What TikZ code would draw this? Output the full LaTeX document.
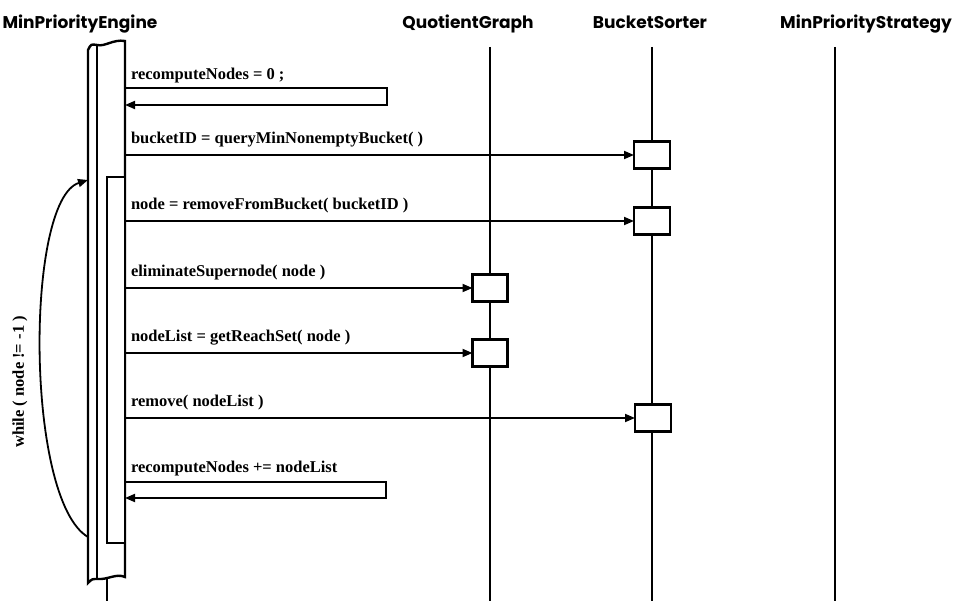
\documentclass[tikz,border=0pt]{standalone}
\usepackage{fontspec}
\setmainfont{Liberation Serif}
\newfontfamily\headfont{Poppins}
\usetikzlibrary{positioning,arrows.meta,calc}

\begin{document}
\begin{tikzpicture}[x=1pt, y=-1pt, line width=1.8pt,
  every node/.style={inner sep=0pt, outer sep=0pt},
  objname/.style={font=\headfont\bfseries\fontsize{17}{17}\selectfont, anchor=base},
  lbl/.style={font=\bfseries\fontsize{16.5}{17}\selectfont},
  life/.style={line width=1.8pt},
  actbox/.style={draw, fill=white, line width=2.4pt, minimum width=36pt, minimum height=27pt},
  msg/.style={-{Triangle[length=10pt,width=8pt]}, line width=1.8pt}]
  \useasboundingbox (0,0) rectangle (975,601);

  % object names
  \node[objname] (eng) at (80,29) {MinPriorityEngine};
  \node[objname] (qg) at (468,29) {QuotientGraph};
  \node[objname] (bs) at (650,29) {BucketSorter};
  \node[objname] (mps) at (866,29) {MinPriorityStrategy};

  % lifelines
  \foreach \n/\x in {qg/490, bs/652, mps/835}
    \draw[life] (\x,47) coordinate (\n top) -- (\x,601) coordinate (\n end);
  \draw[life] (107,575) coordinate (engend) -- (107,601);

  % engine activation, torn at both ends
  \draw[line width=2.4pt, fill=white] (88,50) .. controls (91,44) .. (97,45)
    .. controls (105,47) and (113,39) .. (125,41) -- (125,577)
    .. controls (116,573) and (108,580) .. (97,579) .. controls (92,579) .. (88,583) -- cycle;
  \draw[line width=2pt] (97,46) -- (97,579);
  \coordinate (engR) at (125,0);
  \coordinate (engL) at (88,0);

  % loop activation
  \node[draw, fill=white, line width=2.4pt, minimum width=18pt, minimum height=366pt,
    anchor=north west] (loop) at (107,177) {};

  % called activations
  \node[actbox] (bs1) at (652,155) {};
  \node[actbox] (bs2) at (652,221) {};
  \node[actbox, minimum width=35pt] (qg1) at (490,288) {};
  \node[actbox, minimum width=35pt] (qg2) at (490,353) {};
  \node[actbox] (bs3) at (653,418) {};

  % messages
  \coordinate (self1) at (387,88);
  \node[lbl, anchor=base west] (m1) at (131,80) {recomputeNodes = 0 ;};
  \draw[msg] (engR |- self1) -- (self1) -- ++(0,17) -- (engR |- 0,105);

  \draw[msg] (engR |- bs1) -- (bs1)
    node[lbl, pos=0, anchor=base west, xshift=6pt, yshift=11pt] (m2) {bucketID = queryMinNonemptyBucket( )};
  \draw[msg] (loop.east |- bs2) -- (bs2)
    node[lbl, pos=0, anchor=base west, xshift=6pt, yshift=11pt] (m3) {node = removeFromBucket( bucketID )};
  \draw[msg] (loop.east |- qg1) -- (qg1)
    node[lbl, pos=0, anchor=base west, xshift=6pt, yshift=11pt] (m4) {eliminateSupernode( node )};
  \draw[msg] (loop.east |- qg2) -- (qg2)
    node[lbl, pos=0, anchor=base west, xshift=6pt, yshift=11pt] (m5) {nodeList = getReachSet( node )};
  \draw[msg] (loop.east |- bs3) -- (bs3)
    node[lbl, pos=0, anchor=base west, xshift=6pt, yshift=11pt] (m6) {remove( nodeList )};

  \coordinate (self2) at (386,482);
  \node[lbl, anchor=base west] (m7) at (131,472) {recomputeNodes += nodeList};
  \draw[msg] (loop.east |- self2) -- (self2) -- ++(0,16) -- (loop.east |- 0,498);

  % loop condition
  \draw[-{Triangle[length=10pt,width=8pt]}, line width=1.8pt]
    (engL |- 0,537) .. controls (25,500) and (25,200) .. (engL |- 0,180);
  \node[lbl, rotate=90] (cond) at (20,382) {while ( node != -1 )};
\end{tikzpicture}
\end{document}
